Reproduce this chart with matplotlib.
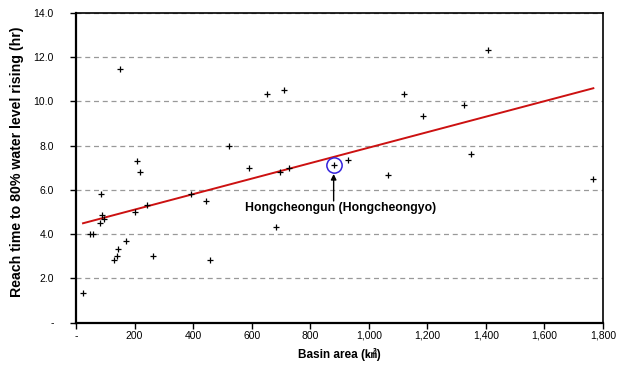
import matplotlib
matplotlib.use("Agg")
import matplotlib.pyplot as plt
from matplotlib.ticker import FuncFormatter

plt.rcParams['font.family'] = ['Liberation Sans', 'Noto Sans CJK KR', 'DejaVu Sans']

# basin area (km2) and reach time (hr)
area = [24, 47, 59, 87, 88, 82, 95, 142, 141, 131, 172, 209, 217, 200, 241, 263,
        150, 394, 445, 458, 524, 590, 654, 683, 698, 709, 726, 880, 930, 1067,
        1122, 1184, 1326, 1348, 1407, 1765]
reach_time = [1.32, 4.0, 4.0, 5.83, 4.85, 4.5, 4.67, 3.34, 3.01, 2.83, 3.69, 7.32,
              6.81, 5.0, 5.32, 3.01, 11.48, 5.83, 5.5, 2.83, 7.99, 7.0, 10.33, 4.32,
              6.81, 10.5, 7.0, 7.14, 7.34, 6.66, 10.33, 9.33, 9.82, 7.64, 12.33, 6.48]

# trend line end points
trend_x = [24, 1767]
trend_y = [4.49, 10.6]

# highlighted station
hl_x, hl_y = 880, 7.14
hl_name = "Hongcheongun (Hongcheongyo)"

fig = plt.figure(figsize=(6.25, 3.74), dpi=100)
ax = fig.add_axes([0.1216, 0.1377, 0.8432, 0.8273])

ax.yaxis.grid(True, linestyle=(0, (4, 3)), color='#999999', linewidth=0.9)
ax.set_axisbelow(True)

ax.plot(trend_x, trend_y, color='#cc1111', linewidth=1.4, zorder=2)
ax.plot(area, reach_time, '+', color='black', markersize=5, markeredgewidth=0.9, zorder=3)

# circle + arrow + label
ax.plot([hl_x], [hl_y], 'o', markersize=11, markerfacecolor='none',
        markeredgecolor='#3322dd', markeredgewidth=1.1, zorder=4)
ax.annotate('', xy=(hl_x, 6.72), xytext=(hl_x, 5.5),
            arrowprops=dict(arrowstyle='-|>', color='black', lw=1.0,
                            mutation_scale=8, shrinkA=0, shrinkB=0))
ax.text(902, 5.18, hl_name, ha='center', va='center', fontsize=8.8, fontweight='bold')

ax.set_xlim(0, 1800)
ax.set_ylim(0, 14)
ax.set_xticks(range(0, 1801, 200))
ax.set_yticks(range(0, 15, 2))
ax.xaxis.set_major_formatter(FuncFormatter(lambda v, p: '-' if v == 0 else '{:,.0f}'.format(v)))
ax.yaxis.set_major_formatter(FuncFormatter(lambda v, p: '-' if v == 0 else '{:.1f}'.format(v)))
ax.tick_params(axis='both', direction='out', length=4, width=1, labelsize=7.5, colors='black')
ax.tick_params(axis='y', pad=12)
ax.tick_params(axis='x', pad=2)

for s in ax.spines.values():
    s.set_linewidth(1.2)
ax.spines['left'].set_linewidth(1.6)
ax.spines['bottom'].set_linewidth(1.6)

ax.set_xlabel('Basin area (㎢)', fontsize=8.5, fontweight='bold', labelpad=5)
ax.set_ylabel('Reach time to 80% water level rising (hr)', fontsize=10.2,
              fontweight='bold')
ax.yaxis.set_label_coords(-0.098, 0.52)

fig.savefig('out.png', dpi=100)
